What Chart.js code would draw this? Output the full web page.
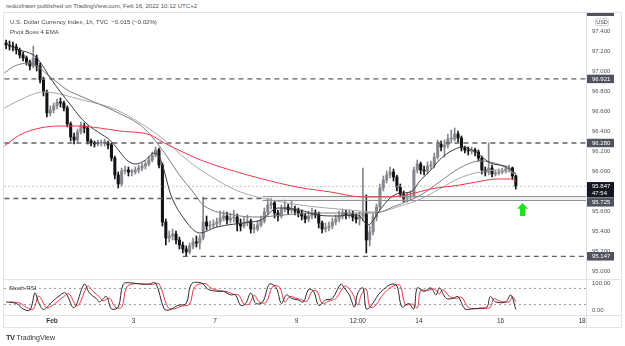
<!DOCTYPE html>
<html><head><meta charset="utf-8">
<script src="https://cdn.jsdelivr.net/npm/chart.js@4.4.1/dist/chart.umd.min.js"></script>
<style>
html,body{margin:0;padding:0;background:#fff;width:625px;height:346px;overflow:hidden;font-family:"Liberation Sans",Arial,sans-serif;color:#434651;}
.a{position:absolute;}
.t{font-size:6.1px;line-height:8px;white-space:nowrap;}
</style></head>
<body>
<div class="a t" style="left:6px;top:2px;color:#555">redoxfrater published on TradingView.com, Feb 16, 2022 10:12 UTC+2</div>
<div class="a" style="left:3px;top:12px;width:619px;height:316px;border:1px solid #e0e3eb;box-sizing:border-box"></div>
<div class="a" style="left:586px;top:12px;width:1px;height:316px;background:#e0e3eb"></div>
<div class="a" style="left:3px;top:279px;width:619px;height:1px;background:#e0e3eb"></div>
<div class="a" style="left:3px;top:315px;width:619px;height:1px;background:#e0e3eb"></div>
<canvas id="c1" class="a" width="618" height="266" style="left:4px;top:13px"></canvas>
<canvas id="c2" class="a" width="618" height="48" style="left:4px;top:280px"></canvas>
<div class="a t" style="left:10px;top:18px">U.S. Dollar Currency Index, 1h, TVC&nbsp; −0.015 (−0.02%)</div>
<div class="a t" style="left:10px;top:28px">Pivot Boss 4 EMA</div>
<div class="a t" style="left:9px;top:284px;color:#333">Stoch RSI</div>
<div class="a" style="left:587px;top:13px;width:27px;height:2.5px;background:#50535e"></div>
<div class="a t" style="left:595px;top:17.5px;width:14px;height:8px;border:1px solid #d1d4dc;border-radius:2px;box-sizing:border-box;font-size:5.5px;line-height:6.5px;text-align:center">USD</div>
<div class="a" style="left:6px;top:333px;font-size:7px;line-height:9px;white-space:nowrap;color:#333"><b style="letter-spacing:-0.5px;font-size:7.5px">TV</b> TradingView</div>
<script>
// ---------- DATA ----------
const closes = [97.26,97.25,97.24,97.21,97.16,97.13,97.09,97.05,97.13,97.05,
96.91,96.79,96.58,96.61,96.65,96.69,96.68,96.63,96.47,96.34,
96.31,96.39,96.45,96.43,96.30,96.28,96.27,96.28,96.28,96.28,
96.26,96.13,95.96,95.87,96.00,96.01,95.99,95.99,96.01,96.03,
96.05,96.07,96.11,96.16,96.21,96.06,95.49,95.33,95.35,95.37,
95.31,95.26,95.22,95.19,95.25,95.29,95.28,95.33,95.49,95.45,
95.46,95.47,95.49,95.53,95.55,95.51,95.53,95.54,95.47,95.45,
95.49,95.50,95.42,95.42,95.46,95.50,95.59,95.66,95.68,95.58,
95.55,95.62,95.64,95.61,95.62,95.60,95.58,95.55,95.52,95.55,
95.58,95.57,95.48,95.42,95.43,95.45,95.49,95.52,95.55,95.58,
95.56,95.57,95.54,95.52,95.55,95.57,95.31,95.39,95.54,95.64,
95.83,95.91,95.96,95.99,95.94,95.84,95.77,95.72,95.74,95.75,
96.01,96.07,96.01,96.00,96.05,96.06,96.14,96.27,96.24,96.26,
96.32,96.32,96.37,96.33,96.23,96.21,96.20,96.21,96.19,96.13,
96.01,95.99,96.03,95.97,95.98,95.99,96.00,96.02,96.03,95.95,
95.847];
const opens = [97.28,97.26,97.25,97.24,97.21,97.16,97.13,97.09,97.05,97.13,
97.05,96.91,96.79,96.58,96.61,96.65,96.69,96.68,96.63,96.47,
96.34,96.31,96.39,96.45,96.43,96.30,96.28,96.27,96.28,96.28,
96.28,96.26,96.13,95.96,95.87,96.00,96.01,95.99,95.99,96.01,
96.03,96.05,96.07,96.11,96.16,96.21,96.06,95.49,95.33,95.35,
95.37,95.31,95.26,95.22,95.19,95.25,95.29,95.28,95.33,95.49,
95.45,95.46,95.47,95.49,95.53,95.55,95.51,95.53,95.54,95.47,
95.45,95.49,95.50,95.42,95.42,95.46,95.50,95.59,95.66,95.68,
95.58,95.55,95.62,95.64,95.61,95.62,95.60,95.58,95.55,95.52,
95.55,95.58,95.57,95.48,95.42,95.43,95.45,95.49,95.52,95.55,
95.58,95.56,95.57,95.54,95.52,95.55,95.57,95.31,95.39,95.54,
95.64,95.83,95.91,95.96,95.99,95.94,95.84,95.77,95.72,95.74,
95.75,96.01,96.07,96.01,96.00,96.05,96.06,96.14,96.27,96.24,
96.26,96.32,96.32,96.37,96.33,96.23,96.21,96.20,96.21,96.19,
96.13,96.01,95.99,96.03,95.97,95.98,95.99,96.00,96.02,96.03,
95.95];
const highs = [97.31,97.30,97.29,97.27,97.23,97.19,97.15,97.11,97.25,97.16,
97.08,96.94,96.81,96.65,96.68,96.72,96.73,96.70,96.65,96.49,
96.38,96.42,96.49,96.48,96.45,96.32,96.30,96.31,96.31,96.32,
96.30,96.28,96.15,95.99,96.03,96.05,96.04,96.02,96.04,96.06,
96.08,96.10,96.14,96.19,96.24,96.23,96.08,95.52,95.40,95.42,
95.40,95.34,95.29,95.25,95.28,95.33,95.35,95.36,95.74,95.55,
95.50,95.51,95.53,95.60,95.60,95.59,95.58,95.61,95.57,95.52,
95.54,95.56,95.52,95.47,95.50,95.55,95.63,95.73,95.73,95.70,
95.61,95.66,95.71,95.67,95.70,95.65,95.63,95.61,95.58,95.60,
95.63,95.61,95.59,95.50,95.48,95.49,95.53,95.56,95.60,95.62,
95.61,95.61,95.60,95.57,95.59,96.03,95.76,95.45,95.57,95.67,
95.87,95.95,96.00,96.04,96.02,95.96,95.87,95.80,95.78,95.80,
96.04,96.11,96.09,96.05,96.09,96.10,96.18,96.31,96.30,96.31,
96.37,96.41,96.43,96.40,96.35,96.25,96.24,96.24,96.23,96.21,
96.15,96.04,96.28,96.06,96.01,96.02,96.03,96.05,96.06,96.04,
95.96];
const lows = [97.22,97.21,97.20,97.17,97.13,97.10,97.06,97.01,97.03,97.00,
96.88,96.75,96.54,96.55,96.58,96.62,96.64,96.60,96.44,96.30,
96.27,96.29,96.37,96.38,96.27,96.25,96.24,96.25,96.25,96.25,
96.22,96.10,95.92,95.83,95.85,95.97,95.95,95.95,95.97,95.98,
96.00,96.02,96.05,96.09,96.14,96.03,95.45,95.26,95.29,95.31,
95.27,95.22,95.18,95.15,95.17,95.22,95.24,95.22,95.31,95.41,
95.42,95.43,95.44,95.46,95.50,95.47,95.48,95.49,95.40,95.40,
95.43,95.45,95.38,95.38,95.40,95.44,95.48,95.56,95.62,95.53,
95.50,95.53,95.59,95.57,95.58,95.56,95.54,95.51,95.48,95.49,
95.52,95.53,95.43,95.38,95.39,95.40,95.42,95.46,95.49,95.52,
95.52,95.53,95.50,95.48,95.46,95.50,95.18,95.25,95.36,95.50,
95.61,95.80,95.88,95.93,95.90,95.80,95.74,95.69,95.69,95.71,
95.73,95.98,95.97,95.96,95.97,96.02,96.03,96.12,96.20,96.14,
96.23,96.28,96.30,96.29,96.20,96.18,96.16,96.17,96.15,96.10,
95.97,95.95,95.96,95.94,95.95,95.96,95.97,95.98,95.99,95.92,
95.82];

const emaFastHours = [2,9,17,21,27,33,39,45,50,56,62,68,72,77,83,88,92,98,105,115,125,145,151,161,174,184,196,208,214,221,227,233,239,245,251,256,262,270,278,286,296,301];
const emaFast = [97.26,97.21,97.16,97.09,96.93,96.79,96.66,96.53,96.45,96.38,96.31,96.19,96.11,96.07,96.11,96.18,96.11,95.76,95.54,95.38,95.44,95.49,95.51,95.63,95.61,95.56,95.55,95.56,95.46,95.61,95.73,95.78,95.79,95.91,96.01,96.11,96.19,96.24,96.18,96.08,96.04,95.97];
const emaMidHours = [0,6,15,27,37,46,66,82,93,103,111,117,135,150,164,184,203,218,230,245,256,268,280,292,301];
const emaMid = [96.98,97.05,97.08,96.94,96.81,96.74,96.59,96.43,96.21,95.96,95.79,95.66,95.56,95.54,95.56,95.58,95.58,95.58,95.65,95.76,95.89,96.03,96.10,96.06,95.97];
const emaSlowHours = [0,9,23,46,66,92,109,125,139,157,174,203,219,233,245,256,268,280,292,301];
const emaSlow = [96.63,96.71,96.79,96.71,96.61,96.34,96.09,95.91,95.79,95.71,95.66,95.61,95.59,95.65,95.72,95.82,95.93,95.99,96.01,95.97];
const emaRedHours = [0,9,21,33,44,56,68,86,93,105,117,133,152,172,192,211,227,239,251,268,278,290,298,301];
const emaRed = [96.25,96.36,96.43,96.45,96.45,96.43,96.40,96.36,96.29,96.19,96.10,96.01,95.92,95.84,95.79,95.74,95.74,95.77,95.82,95.86,95.89,95.92,95.92,95.90];

const levelValues = [96.921, 96.280, 95.725, 95.147];
const levelStartHours = [0, 0, 0, 105];
const levelEndHours = [342.3, 342.3, 152, 342.3];
const zoneTop = 95.745, zoneBottom = 95.705, zoneStartHour = 152;
const lastPrice = 95.847;
const boxValues = [96.921, 96.280, 95.847, 95.725, 95.147];
const boxSubs = ['', '', '47:54', '', ''];
const arrowHour = 305, arrowTip = 95.68, arrowBase = 95.55;

const stochKHours = [1,7,11,15,18,20,23,28,33,36,41,47,50,54,56,60,63,67,70,75,80,85,89,94,97,102,107,110,116,120,126,129,133,136,139,142,145,148,152,156,160,163,166,169,173,176,179,182,185,189,193,198,200,203,206,208,211,213,216,220,223,228,231,234,238,241,243,247,251,254,256,260,264,267,271,275,280,284,286,289,295,298,301];
const stochK = [30,24,4,0,63,30,2,30,56,63,8,96,63,43,30,50,4,11,96,100,96,96,100,4,0,17,24,96,100,76,69,69,56,56,17,24,63,24,30,96,82,24,56,43,37,30,76,69,17,37,43,96,82,56,11,63,82,4,17,56,76,96,89,11,24,4,82,69,82,56,82,43,43,50,4,4,7,11,50,30,30,56,2];
const stochDHours = [3,9,13,17,20,22,25,30,35,38,43,49,52,56,58,62,65,69,72,77,82,87,91,96,99,104,109,112,118,122,128,131,135,138,141,144,147,150,154,158,162,165,168,171,175,178,181,184,187,191,195,200,202,205,208,210,213,215,218,222,225,230,233,236,240,243,245,249,253,256,258,262,266,269,273,277,282,286,288,291,297,299,301];
const stochD = [30,26,10,3,52,38,8,25,50,60,15,88,70,48,34,44,12,10,85,98,96,95,97,12,3,14,22,86,98,80,70,68,58,55,22,22,55,30,28,88,84,30,50,45,38,32,68,70,24,33,42,88,85,60,18,55,78,12,14,50,72,92,90,20,22,8,72,72,78,60,76,50,43,48,10,5,6,10,42,34,30,50,30];
const stochGuides = [80, 20];

const timeTickHours = [28, 76, 124, 172, 208, 244, 292, 340];
const timeTickLabels = ['Feb', '3', '7', '9', '12:00', '14', '16', '18'];

// ---------- BUILD ----------
const X_MIN = -0.24, X_MAX = 342.3;
const FONT = '"Liberation Sans", Arial, sans-serif';
const candleX = closes.map((_, i) => 2 * i + 1);
const isUp = closes.map((c, i) => c >= opens[i]);
const upCol = '#85878e', downCol = '#131313';
const pts = (hs, vs) => hs.map((h, i) => ({x: h, y: vs[i]}));
const lineDs = (data, color, width, extra) => Object.assign({type: 'line', data, borderColor: color, borderWidth: width, pointRadius: 0, fill: false, tension: 0.4, cubicInterpolationMode: 'monotone'}, extra || {});

const datasets1 = [
  lineDs(pts(emaRedHours, emaRed), '#f23645', 1, {order: 1}),
  lineDs(pts(emaFastHours, emaFast), '#3b3b3b', 1, {order: 2}),
  lineDs(pts(emaMidHours, emaMid), '#7c7c7c', 1, {order: 3}),
  lineDs(pts(emaSlowHours, emaSlow), '#a8a8a8', 1, {order: 4}),
];
levelValues.forEach((v, i) => datasets1.push(lineDs([{x: levelStartHours[i], y: v}, {x: levelEndHours[i], y: v}], '#5d606b', 1.3, {borderDash: [5, 4], tension: 0, order: 6})));
datasets1.push(lineDs([{x: X_MIN, y: lastPrice}, {x: X_MAX, y: lastPrice}], '#b2b5be', 0.8, {borderDash: [2, 2], tension: 0, order: 7}));
datasets1.push(lineDs([{x: zoneStartHour, y: zoneTop}, {x: X_MAX, y: zoneTop}], '#8e9099', 1, {tension: 0, order: 8}));
datasets1.push(lineDs([{x: zoneStartHour, y: zoneBottom}, {x: X_MAX, y: zoneBottom}], '#8e9099', 1, {tension: 0, order: 8, fill: '-1', backgroundColor: 'rgba(200,202,208,0.25)'}));
datasets1.push({type: 'bar', data: closes.map((c, i) => ({x: candleX[i], y: [opens[i], c]})), backgroundColor: isUp.map(u => u ? upCol : downCol), barThickness: 2.4, grouped: false, minBarLength: 1, order: 10});
datasets1.push({type: 'bar', data: highs.map((h, i) => ({x: candleX[i], y: [lows[i], h]})), backgroundColor: isUp.map(u => u ? upCol : downCol), barThickness: 1, grouped: false, order: 11});

const boxPlugin = {
  id: 'boxes',
  afterDraw(chart) {
    const {ctx, chartArea, scales: {y}} = chart;
    const x0 = chartArea.right + 1, w = 27;
    const items = boxValues.map((v, i) => ({v, sub: boxSubs[i]})).sort((a, b) => b.v - a.v);
    let prevBottom = -1e9;
    ctx.save();
    ctx.font = '6px ' + FONT;
    ctx.textBaseline = 'middle';
    for (const it of items) {
      const h = it.sub ? 15.5 : 8.5;
      let top = y.getPixelForValue(it.v) - 4.25;
      if (top < prevBottom + 0.5) top = prevBottom + 0.5;
      ctx.fillStyle = it.sub ? '#131722' : '#50535e';
      ctx.fillRect(x0, top, w, h);
      ctx.fillStyle = '#fff';
      ctx.fillText(it.v.toFixed(3), x0 + 5, top + 4.5);
      if (it.sub) ctx.fillText(it.sub, x0 + 5, top + 11.5);
      prevBottom = top + h;
    }
    ctx.restore();
  }
};
const arrowPlugin = {
  id: 'arrow',
  afterDatasetsDraw(chart) {
    const {ctx, scales: {x, y}} = chart;
    const cx = x.getPixelForValue(arrowHour), tip = y.getPixelForValue(arrowTip), base = y.getPixelForValue(arrowBase);
    const hh = (base - tip) * 0.45;
    ctx.save();
    ctx.fillStyle = '#1fe01f';
    ctx.beginPath();
    ctx.moveTo(cx, tip); ctx.lineTo(cx + 5.5, tip + hh); ctx.lineTo(cx + 2.6, tip + hh); ctx.lineTo(cx + 2.6, base);
    ctx.lineTo(cx - 2.6, base); ctx.lineTo(cx - 2.6, tip + hh); ctx.lineTo(cx - 5.5, tip + hh); ctx.closePath();
    ctx.fill();
    ctx.restore();
  }
};
const fixY = s => { s.width = 36; s.paddingTop = 0; s.paddingBottom = 0; };

new Chart(document.getElementById('c1'), {
  type: 'bar',
  data: {datasets: datasets1},
  options: {
    responsive: false, animation: false, devicePixelRatio: 1,
    layout: {padding: 0},
    plugins: {legend: {display: false}, tooltip: {enabled: false}},
    scales: {
      x: {type: 'linear', min: X_MIN, max: X_MAX, offset: false, display: false, grid: {display: false}},
      y: {position: 'right', min: 94.92, max: 97.58, afterFit: fixY,
        grid: {display: false, drawTicks: false}, border: {display: false},
        ticks: {stepSize: 0.2, includeBounds: false, autoSkip: false, padding: 6, color: '#50535e', font: {size: 6, family: FONT}, callback: v => v.toFixed(3)}}
    }
  },
  plugins: [arrowPlugin, boxPlugin]
});

const datasets2 = [
  lineDs(pts(stochKHours, stochK), '#2a2a2a', 1, {order: 1, cubicInterpolationMode: 'default', tension: 0.35}),
  lineDs(pts(stochDHours, stochD), '#f23645', 1, {order: 2, cubicInterpolationMode: 'default', tension: 0.35}),
];
stochGuides.forEach(g => datasets2.push(lineDs([{x: X_MIN, y: g}, {x: X_MAX, y: g}], '#9598a1', 1, {borderDash: [2, 3], tension: 0, order: 5})));

new Chart(document.getElementById('c2'), {
  type: 'line',
  data: {datasets: datasets2},
  options: {
    responsive: false, animation: false, devicePixelRatio: 1,
    layout: {padding: 0},
    plugins: {legend: {display: false}, tooltip: {enabled: false}},
    scales: {
      x: {type: 'linear', min: X_MIN, max: X_MAX, offset: false,
        afterFit: s => { s.height = 13; s.paddingLeft = 0; s.paddingRight = 0; },
        afterBuildTicks: s => { s.ticks = timeTickHours.map(v => ({value: v})); },
        grid: {display: false, drawTicks: false}, border: {display: false},
        ticks: {autoSkip: false, maxRotation: 0, padding: 2, color: '#333',
          font: c => ({size: 6.5, family: FONT, weight: (c.tick && c.index === 0) ? 'bold' : 'normal'}),
          callback: (v, i) => timeTickLabels[i]}},
      y: {position: 'right', min: -18.5, max: 111.1, afterFit: fixY,
        afterBuildTicks: s => { s.ticks = [{value: 0}, {value: 100}]; },
        grid: {display: false, drawTicks: false}, border: {display: false},
        ticks: {autoSkip: false, padding: 6, color: '#50535e', font: {size: 6, family: FONT}, callback: v => v.toFixed(2)}}
    }
  }
});
</script>
</body></html>
